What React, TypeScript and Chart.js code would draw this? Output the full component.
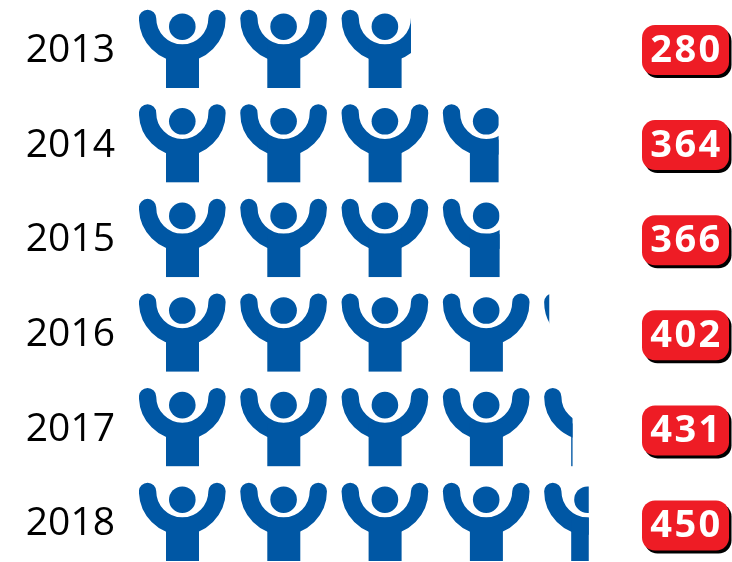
import React, { useEffect, useRef } from "react";
import { Chart, registerables } from "chart.js";

Chart.register(...registerables);

const years = ["2013", "2014", "2015", "2016", "2017", "2018"];
const totals = ["280", "364", "366", "402", "431", "450"];
// Visible length of each row, in person icons
const iconsFilled = [2.685, 3.55, 3.56, 4.05, 4.28, 4.44];

const BLUE = "#0057a4";
const RED = "#ee1c25";
const ICON_H = 77;

function drawPerson(ctx: CanvasRenderingContext2D, x: number, y: number) {
  ctx.fillStyle = BLUE;
  ctx.strokeStyle = BLUE;
  ctx.beginPath();
  ctx.arc(x + 43.3, y + 15.7, 13.3, 0, Math.PI * 2);
  ctx.fill();
  ctx.lineWidth = 17.3;
  ctx.lineCap = "round";
  ctx.beginPath();
  ctx.arc(x + 43.3, y + 7.3, 34.7, Math.PI, 0, true);
  ctx.stroke();
  ctx.fillRect(x + 27, y + 34, 33, ICON_H - 34);
}

const pictorial = {
  id: "pictorial",
  afterDatasetsDraw(chart: any) {
    const { ctx } = chart;
    const xs = chart.scales.x;
    const unit = xs.getPixelForValue(1) - xs.getPixelForValue(0);
    chart.getDatasetMeta(0).data.forEach((bar: any) => {
      const top = bar.y - ICON_H / 2;
      ctx.save();
      ctx.beginPath();
      ctx.rect(bar.base, top - 2, bar.x - bar.base, ICON_H + 2);
      ctx.clip();
      for (let i = 0; bar.base + i * unit < bar.x; i++) {
        drawPerson(ctx, bar.base + i * unit, top);
      }
      ctx.restore();
    });
  },
};

const badges = {
  id: "badges",
  afterDraw(chart: any) {
    const { ctx } = chart;
    const ys = chart.scales.y;
    totals.forEach((t, i) => {
      const cy = ys.getPixelForValue(i) + 0.5 + i * 0.5;
      const x = 642, w = 87, h = 50, r = 13;
      ctx.save();
      ctx.fillStyle = "#000";
      ctx.beginPath();
      ctx.roundRect(x + 2.5, cy - h / 2 + 3, w, h, r);
      ctx.fill();
      ctx.fillStyle = RED;
      ctx.beginPath();
      ctx.roundRect(x, cy - h / 2, w, h, r);
      ctx.fill();
      ctx.fillStyle = "#fff";
      ctx.font = 'bold 38px "Open Sans"';
      ctx.letterSpacing = "2.5px";
      ctx.textAlign = "center";
      ctx.textBaseline = "middle";
      ctx.fillText(t, x + w / 2 + 1, cy + 1);
      ctx.restore();
    });
  },
};

export default function App() {
  const ref = useRef<HTMLCanvasElement>(null);
  useEffect(() => {
    document.body.style.margin = "0";
    const chart = new Chart(ref.current!, {
      type: "bar",
      data: {
        labels: years,
        datasets: [
          {
            data: iconsFilled,
            backgroundColor: "rgba(0,0,0,0)",
            barThickness: ICON_H,
            clip: false as any,
          },
        ],
      },
      options: {
        indexAxis: "y",
        responsive: false,
        animation: false,
        layout: { padding: { top: 49.5, bottom: 39.5, left: 0, right: 0 } },
        plugins: { legend: { display: false }, tooltip: { enabled: false } },
        scales: {
          x: { display: false, min: 0, max: 5.854 },
          y: {
            offset: false,
            grid: { display: false, drawTicks: false },
            border: { display: false },
            afterFit: (s: any) => {
              s.width = 139;
              s.paddingTop = 0;
              s.paddingBottom = 0;
            },
            ticks: {
              autoSkip: false,
              color: "#000",
              padding: 24,
              labelOffset: 1.5,
              font: { family: "Open Sans", size: 39 },
            },
          },
        },
      },
      plugins: [pictorial, badges],
    } as any);
    return () => chart.destroy();
  }, []);
  return <canvas ref={ref} width={732} height={562} style={{ display: "block" }} />;
}
